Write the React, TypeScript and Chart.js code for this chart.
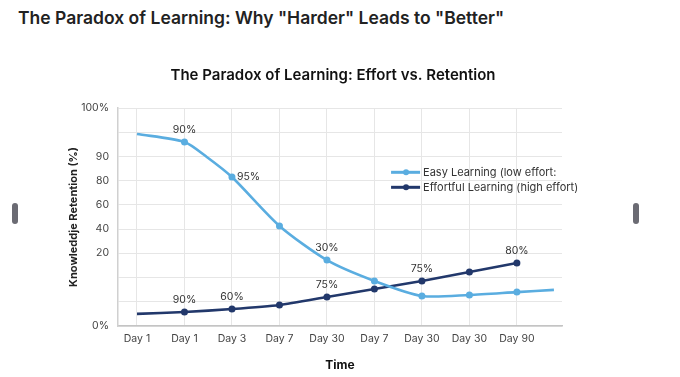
import React, { useEffect, useRef } from "react";
import { Chart, registerables } from "chart.js";

Chart.register(...registerables);

const pageTitle = 'The Paradox of Learning: Why "Harder" Leads to "Better"';
const chartTitle = "The Paradox of Learning: Effort vs. Retention";
const xAxisTitle = "Time";
const yAxisTitle = "Knowleddje Retention (%)";

const xCategories = ["Day 1", "Day 1", "Day 3", "Day 7", "Day 30", "Day 7", "Day 30", "Day 30", "Day 90"];
const yTickLabels = ["0%", "", "", "20", "40", "60", "80", "90", "", "100%"];

const easyLabel = "Easy Learning (low effort:";
const easyX = [0, 1, 1.47, 2, 3, 4, 5, 6, 7, 8, 8.78];
const easyY = [7.93, 7.6, 6.98, 6.15, 4.13, 2.72, 1.86, 1.24, 1.28, 1.4, 1.49];
const easyMarkers = [0, 1, 0, 1, 1, 1, 1, 1, 1, 1, 0];
const easyValueLabels = ["", "90%", "", "95%", "", "30%", "", "", "", "", ""];
const easyLabelSide = ["", "top", "", "right", "", "top", "", "", "", "", ""];

const effortLabel = "Effortful Learning (high effort)";
const effortX = [0, 1, 2, 3, 4, 5, 6, 7, 8];
const effortY = [0.5, 0.58, 0.7, 0.87, 1.2, 1.53, 1.86, 2.23, 2.6];
const effortMarkers = [0, 1, 1, 1, 1, 1, 1, 1, 1];
const effortValueLabels = ["", "90%", "60%", "", "75%", "", "75%", "", "80%"];
const effortLabelSide = ["", "top", "top", "", "top", "", "top", "", "top"];

const EASY = "#5aade0";
const EFFORT = "#22386b";
const FONT = "Inter, 'Liberation Sans', Arial, sans-serif";

const titleShiftPlugin = {
  id: "titleShift",
  afterLayout(chart: any) {
    const tb = chart.titleBlock;
    if (tb) {
      tb.left += 22;
      tb.right += 22;
    }
  },
};

const valueLabelPlugin = {
  id: "valueLabels",
  afterDatasetsDraw(chart: any) {
    const ctx = chart.ctx;
    const sets = [
      { idx: 0, labels: easyValueLabels, sides: easyLabelSide },
      { idx: 1, labels: effortValueLabels, sides: effortLabelSide },
    ];
    ctx.save();
    ctx.font = `10.5px ${FONT}`;
    ctx.fillStyle = "#333";
    sets.forEach((s) => {
      const meta = chart.getDatasetMeta(s.idx);
      meta.data.forEach((pt: any, i: number) => {
        const t = s.labels[i];
        if (!t) return;
        if (s.sides[i] === "right") {
          ctx.textAlign = "left";
          ctx.textBaseline = "middle";
          ctx.fillText(t, pt.x + 5, pt.y);
        } else {
          ctx.textAlign = "center";
          ctx.textBaseline = "bottom";
          ctx.fillText(t, pt.x, pt.y - 7);
        }
      });
    });
    ctx.restore();
  },
};

const insideLegendPlugin = {
  id: "insideLegend",
  afterDraw(chart: any) {
    const ctx = chart.ctx;
    const area = chart.chartArea;
    const x0 = area.left + (area.right - area.left) * 0.615;
    const y0 = area.top + (area.bottom - area.top) * 0.295;
    const items = [
      { text: easyLabel, color: EASY },
      { text: effortLabel, color: EFFORT },
    ];
    ctx.save();
    ctx.font = `11px ${FONT}`;
    ctx.textBaseline = "middle";
    ctx.textAlign = "left";
    items.forEach((it, i) => {
      const y = y0 + i * 15;
      ctx.strokeStyle = it.color;
      ctx.lineWidth = 3;
      ctx.beginPath();
      ctx.moveTo(x0, y);
      ctx.lineTo(x0 + 29, y);
      ctx.stroke();
      ctx.fillStyle = it.color;
      ctx.beginPath();
      ctx.arc(x0 + 15, y, 3, 0, Math.PI * 2);
      ctx.fill();
      ctx.fillStyle = "#333";
      ctx.fillText(it.text, x0 + 32, y + 0.5);
    });
    ctx.restore();
  },
};

export default function App() {
  const ref = useRef<HTMLCanvasElement | null>(null);

  useEffect(() => {
    document.body.style.margin = "0";
    const canvas = ref.current;
    if (!canvas) return;
    const chart = new Chart(canvas, {
      type: "line",
      data: {
        datasets: [
          {
            label: easyLabel,
            data: easyX.map((x, i) => ({ x, y: easyY[i] })),
            borderColor: EASY,
            backgroundColor: EASY,
            borderWidth: 2.6,
            pointRadius: easyMarkers.map((m) => (m ? 3.5 : 0)),
            pointBorderWidth: 0,
            tension: 0.25,
          },
          {
            label: effortLabel,
            data: effortX.map((x, i) => ({ x, y: effortY[i] })),
            borderColor: EFFORT,
            backgroundColor: EFFORT,
            borderWidth: 2.6,
            pointRadius: effortMarkers.map((m) => (m ? 3.5 : 0)),
            pointBorderWidth: 0,
            tension: 0.2,
          },
        ],
      },
      options: {
        animation: false,
        responsive: false,
        maintainAspectRatio: false,
        layout: { padding: { left: 60, right: 118, top: 66, bottom: 0 } },
        plugins: {
          legend: { display: false },
          tooltip: { enabled: false },
          title: {
            display: true,
            text: chartTitle,
            color: "#111",
            font: { family: FONT, size: 15, weight: "600" },
            padding: { top: 0, bottom: 24 },
          },
        },
        scales: {
          x: {
            type: "linear",
            min: -0.4,
            max: 8.95,
            afterBuildTicks: (scale: any) => {
              scale.ticks = xCategories.map((_, i) => ({ value: i }));
            },
            afterFit: (scale: any) => {
              scale.height = 51;
            },
            ticks: {
              autoSkip: false,
              maxRotation: 0,
              padding: 7,
              color: "#444",
              font: { family: FONT, size: 10.5 },
              callback: (v: any) => xCategories[v] ?? "",
            },
            grid: { color: "#e6e6e6", lineWidth: 1, drawTicks: false },
            border: { color: "#c4c4c4", width: 1.5 },
            title: {
              display: true,
              text: xAxisTitle,
              color: "#111",
              font: { family: FONT, size: 12, weight: "bold" },
              padding: { top: 8, bottom: 4 },
            },
          },
          y: {
            type: "linear",
            min: 0,
            max: 9,
            afterFit: (scale: any) => {
              scale.width = 58;
            },
            ticks: {
              stepSize: 1,
              padding: 9,
              color: "#444",
              font: { family: FONT, size: 10.5 },
              callback: (v: any) => yTickLabels[v] ?? "",
            },
            grid: { color: "#e6e6e6", lineWidth: 1, drawTicks: false },
            border: { color: "#d0d0d0", width: 1.5 },
            title: {
              display: true,
              text: yAxisTitle,
              color: "#222",
              font: { family: FONT, size: 11, weight: "bold" },
              padding: { top: 7, bottom: 4 },
            },
          },
        },
      },
      plugins: [titleShiftPlugin, valueLabelPlugin, insideLegendPlugin],
    } as any);
    return () => chart.destroy();
  }, []);

  const handle: React.CSSProperties = {
    position: "absolute",
    top: 203,
    width: 6,
    height: 21,
    borderRadius: 3,
    background: "#6b6b73",
  };

  return (
    <div style={{ position: "relative", width: 680, height: 377, background: "#fff", overflow: "hidden" }}>
      <div
        style={{
          position: "absolute",
          left: 18,
          top: 7,
          fontFamily: FONT,
          fontSize: 17.5,
          fontWeight: 600,
          color: "#222",
          whiteSpace: "nowrap",
        }}
      >
        {pageTitle}
      </div>
      <canvas ref={ref} width={680} height={377} style={{ position: "absolute", left: 0, top: 0 }} />
      <div style={{ ...handle, left: 12 }} />
      <div style={{ ...handle, left: 633 }} />
    </div>
  );
}
